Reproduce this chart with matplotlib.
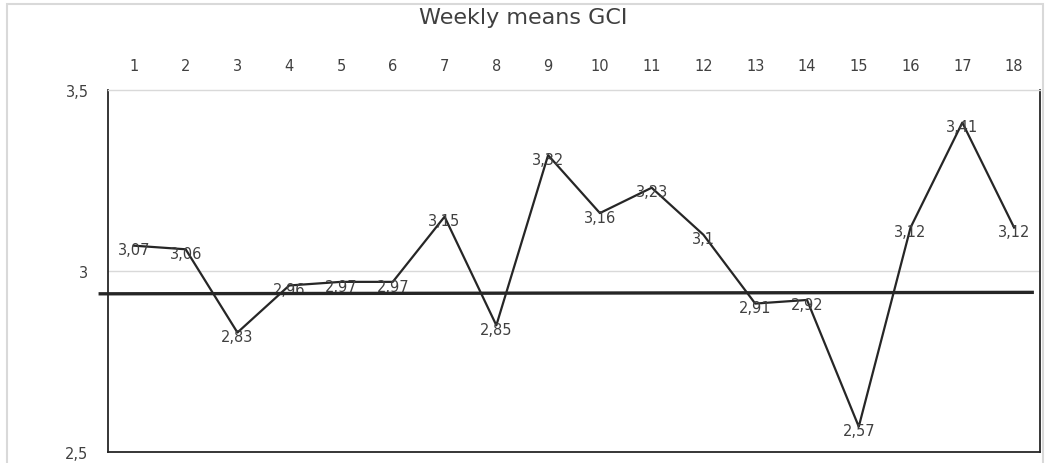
import matplotlib.pyplot as plt
from matplotlib.patches import Rectangle

weeks = list(range(1, 19))
gci = [3.07, 3.06, 2.83, 2.96, 2.97, 2.97, 3.15, 2.85, 3.32,
       3.16, 3.23, 3.1, 2.91, 2.92, 2.57, 3.12, 3.41, 3.12]
ref_level = 2.937
y_ticks = [2.5, 3.0, 3.5]


def comma(v):
    return ("%g" % v).replace(".", ",")


fig = plt.figure(figsize=(10.47, 4.64), dpi=100)
ax = fig.add_axes([108 / 1047, 11 / 464, 932 / 1047, 362 / 464])

ax.plot(weeks, gci, color="#262626", lw=1.6, zorder=3)
for x, y in zip(weeks, gci):
    ax.annotate(comma(y), (x, y), xytext=(0, -3), textcoords="offset points",
                ha="center", va="center", fontsize=10.5, color="#404040", zorder=4)

ax.plot([0.35, 18.35], [ref_level, ref_level + 0.004], color="#262626", lw=2.4,
        clip_on=False, zorder=5)

ax.set_xlim(0.5, 18.5)
ax.set_ylim(2.5, 3.5)
ax.set_yticks(y_ticks)
ax.set_yticklabels([comma(v) for v in y_ticks])
ax.set_xticks(weeks)
ax.xaxis.tick_top()
ax.tick_params(axis="both", length=0, labelsize=10.5, labelcolor="#404040")
ax.tick_params(axis="x", pad=12)
ax.tick_params(axis="y", pad=14)
ax.axhline(3.0, color="#d9d9d9", lw=1, zorder=1)

for side in ["left", "bottom", "right"]:
    ax.spines[side].set_color("#262626")
    ax.spines[side].set_linewidth(1.3)
ax.spines["top"].set_color("#d9d9d9")
ax.spines["top"].set_linewidth(1)

fig.text(523 / 1047, 1 - 18 / 464, "Weekly means GCI", ha="center", va="center",
         fontsize=16, color="#404040")

fig.patches.append(Rectangle((7 / 1047, -0.05), 1036 / 1047, 1.05 - 5 / 464,
                             transform=fig.transFigure, fill=False,
                             edgecolor="#d9d9d9", lw=1.5))

fig.savefig("out.png", dpi=100)
